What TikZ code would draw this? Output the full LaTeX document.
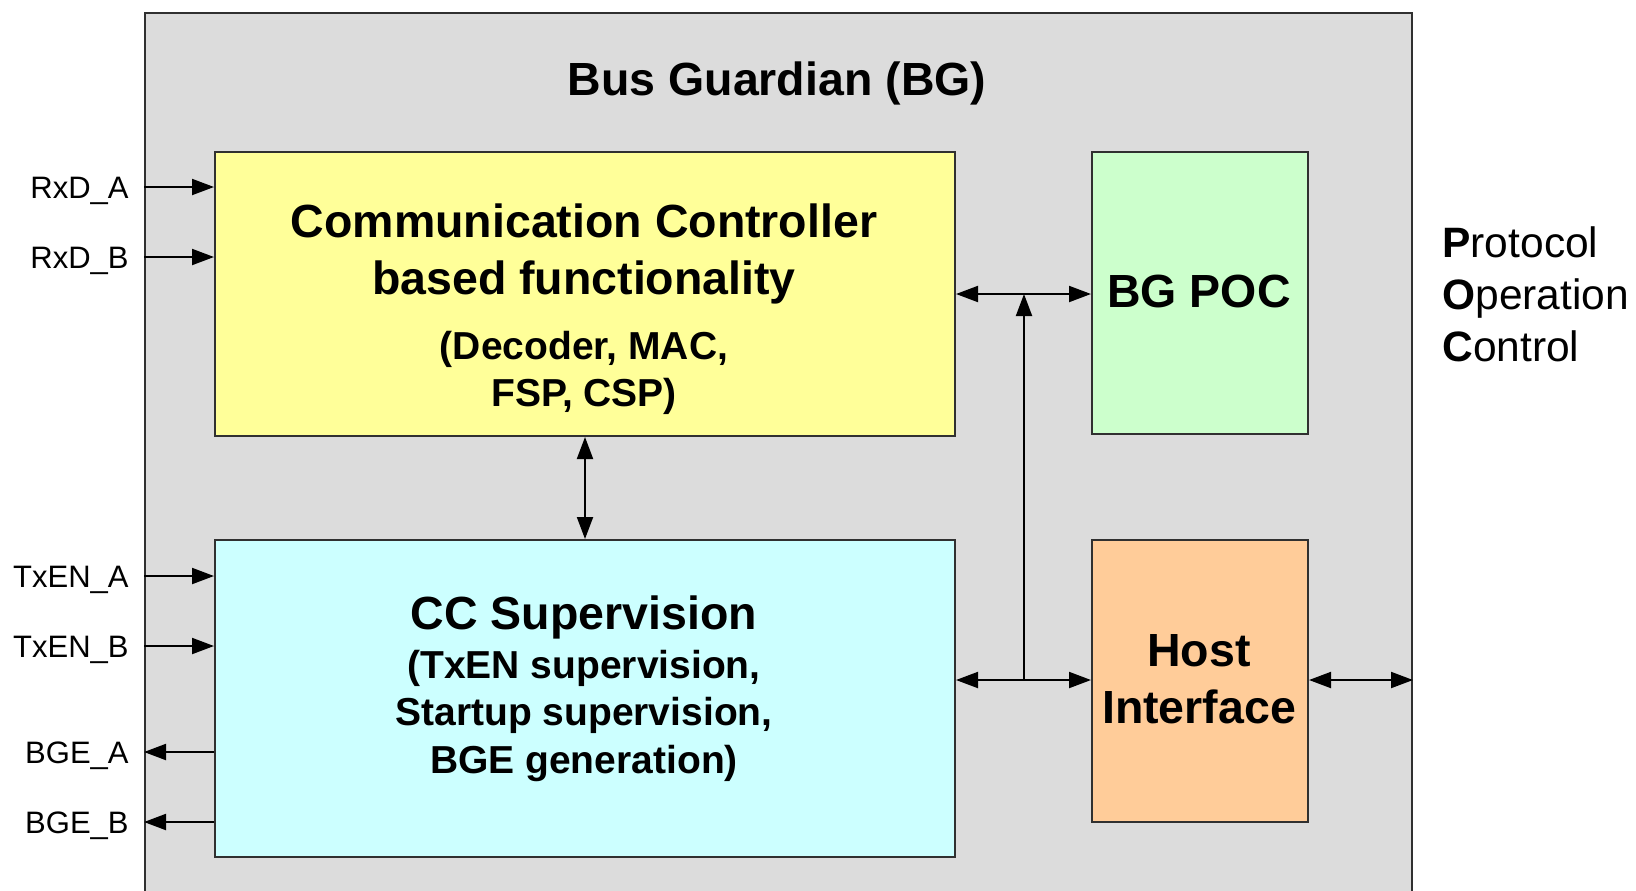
\documentclass[tikz,border=0pt]{standalone}
\usepackage{fontspec}
\setmainfont{Liberation Sans}
\usetikzlibrary{arrows.meta}
\definecolor{bggray}{HTML}{DCDCDC}
\definecolor{ccyellow}{HTML}{FFFF99}
\definecolor{pocgreen}{HTML}{CCFFCC}
\definecolor{supcyan}{HTML}{CCFFFF}
\definecolor{hostorange}{HTML}{FFCC99}
\definecolor{edgegray}{HTML}{303030}
\begin{document}
\begin{tikzpicture}[x=0.5pt,y=-0.5pt,
  blk/.style={draw=edgegray, line width=1pt, inner sep=0pt, anchor=north west},
  arr/.style={line width=1pt, -{Triangle[length=11pt,width=8pt]}},
  darr/.style={line width=1pt, {Triangle[length=11pt,width=8pt]}-{Triangle[length=11pt,width=8pt]}},
  big/.style={font=\bfseries\fontsize{23.25}{28.5}\selectfont, align=center, inner sep=0pt},
  small/.style={font=\bfseries\fontsize{19.5}{23.75}\selectfont, align=center, inner sep=0pt},
  sig/.style={font=\fontsize{15.5}{18}\selectfont, anchor=east, inner sep=0pt, text height=11.1pt, text depth=0pt},
]
\clip (0,0) rectangle (1636,890);
\fill[white] (0,0) rectangle (1636,890);
% blocks
\node[blk, fill=bggray, minimum width=633.5pt, minimum height=494pt] (bg) at (144,12) {};
\node[blk, fill=ccyellow, minimum width=370pt, minimum height=142pt] (cc) at (214,151) {};
\node[blk, fill=pocgreen, minimum width=108pt, minimum height=141pt] (poc) at (1091,151) {};
\node[blk, fill=supcyan, minimum width=370pt, minimum height=158.5pt] (cs) at (214,539) {};
\node[blk, fill=hostorange, minimum width=108pt, minimum height=141pt] (hi) at (1091,539) {};
% texts
\node[big, anchor=base] (title) at (777,95) {Bus Guardian (BG)};
\node[big] (cctitle) at (584,253.6) {Communication Controller\\based functionality};
\node[small] (ccsub) at (584,373) {(Decoder, MAC,\\FSP, CSP)};
\node[big, anchor=base] (cstitle) at (584,629) {CC Supervision};
\node[small] (cssub) at (584,715.5) {(TxEN supervision,\\Startup supervision,\\BGE generation)};
\node[big, anchor=base] (poctext) at (1199,307) {BG POC};
\node[big] (hitext) at (1199,679) {Host\\Interface};
\node[font=\fontsize{21.25}{26}\selectfont, align=left, anchor=north west, inner sep=0pt] (legend) at (1442,226) {\textbf{P}rotocol\\\textbf{O}peration\\\textbf{C}ontrol};
% signal labels
\node[sig] (rxa) at (129,187) {RxD\_A};
\node[sig] (rxb) at (129,257) {RxD\_B};
\node[sig] (txa) at (129,576) {TxEN\_A};
\node[sig] (txb) at (129,646) {TxEN\_B};
\node[sig] (bgea) at (129,752) {BGE\_A};
\node[sig] (bgeb) at (129,822) {BGE\_B};
% connectors
\draw[arr] (bg.west |- rxa.east) -- (cc.west |- rxa.east);
\draw[arr] (bg.west |- rxb.east) -- (cc.west |- rxb.east);
\draw[arr] (bg.west |- txa.east) -- (cs.west |- txa.east);
\draw[arr] (bg.west |- txb.east) -- (cs.west |- txb.east);
\draw[arr] (cs.west |- bgea.east) -- (bg.west |- bgea.east);
\draw[arr] (cs.west |- bgeb.east) -- (bg.west |- bgeb.east);
\draw[darr] (cc.south) -- (cs.north);
\draw[darr] (cc.east) -- (cc.east -| poc.west);
\coordinate (jn) at (1024,680);
\draw[darr] (cs.east |- jn) -- (hi.west |- jn);
\draw[arr] (jn) -- (jn |- cc.east);
\draw[darr] (hi.east |- jn) -- (bg.east |- jn);
\end{tikzpicture}
\end{document}
